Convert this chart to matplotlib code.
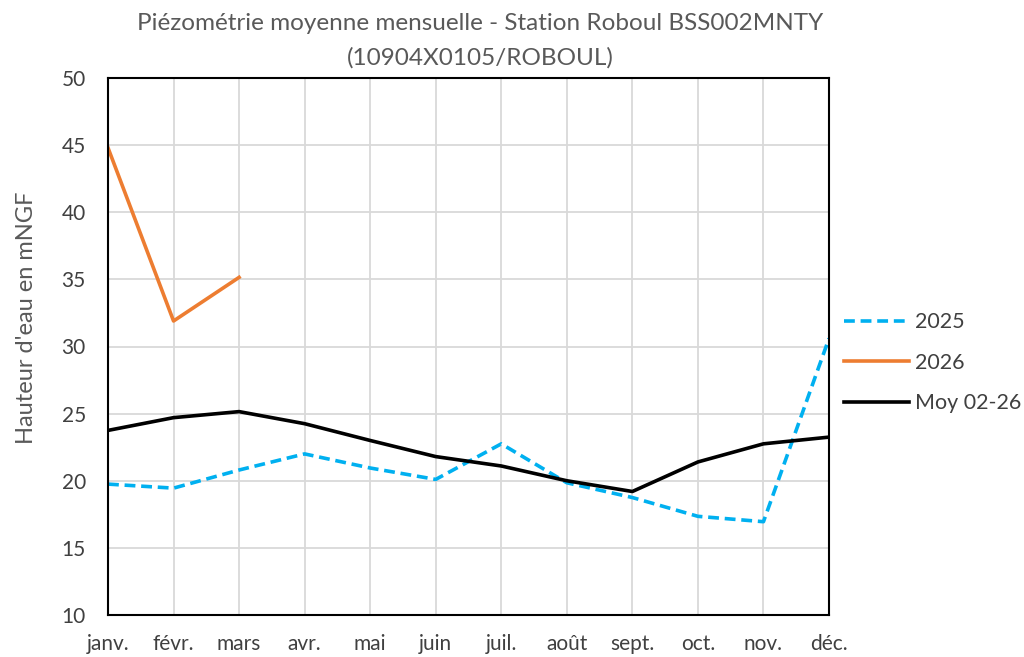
import matplotlib
matplotlib.use("Agg")
import matplotlib.pyplot as plt

months = ["janv.", "févr.", "mars", "avr.", "mai", "juin", "juil.", "août", "sept.", "oct.", "nov.", "déc."]
y2025 = [19.75, 19.45, 20.8, 22.0, 20.95, 20.1, 22.75, 19.85, 18.75, 17.35, 16.95, 30.6]
y2026 = [44.8, 31.9, 35.15]
moy = [23.75, 24.7, 25.15, 24.25, 23.0, 21.8, 21.1, 20.0, 19.2, 21.4, 22.75, 23.25]

plt.rcParams['font.family'] = ['Lato', 'DejaVu Sans']
fig = plt.figure(figsize=(10.24, 6.57), dpi=100)
ax = fig.add_axes([108/1024, 1-615/657, (829-108)/1024, (615-78)/657])

x = list(range(len(months)))
ax.plot(x, y2025, color="#00B0F0", lw=2.6, ls=(0, (3, 1.6)), label="2025")
ax.plot(x[:len(y2026)], y2026, color="#ED7D31", lw=2.6, label="2026")
ax.plot(x, moy, color="black", lw=2.6, label="Moy 02-26")

ax.set_xlim(0, 11)
ax.set_ylim(10, 50)
ax.set_yticks(range(10, 51, 5))
ax.set_xticks(x)
ax.set_xticklabels(months)
ax.grid(True, color="#d9d9d9", lw=1.3)
ax.set_axisbelow(True)
for s in ax.spines.values():
    s.set_color("black")
    s.set_linewidth(1.5)
ax.tick_params(length=0, labelsize=15, colors="#404040")
ax.tick_params(axis="x", pad=14)
ax.tick_params(axis="y", pad=16)
ax.set_ylabel("Hauteur d'eau en mNGF", fontsize=17, color="#595959")
ax.yaxis.set_label_coords(-0.098, 0.553)
fig.text(480/1024, 1-24/657, "Piézométrie moyenne mensuelle - Station Roboul BSS002MNTY",
         ha="center", va="center", fontsize=17.5, color="#595959")
fig.text(480/1024, 1-58/657, "(10904X0105/ROBOUL)",
         ha="center", va="center", fontsize=17.5, color="#595959")
leg = ax.legend(loc="center left", bbox_to_anchor=(1.0, 0.47), frameon=False,
                fontsize=15.5, handlelength=3.0, labelspacing=0.95, handletextpad=0.3,
                labelcolor="#404040", borderaxespad=0.3)
fig.savefig("out.png", dpi=100)
